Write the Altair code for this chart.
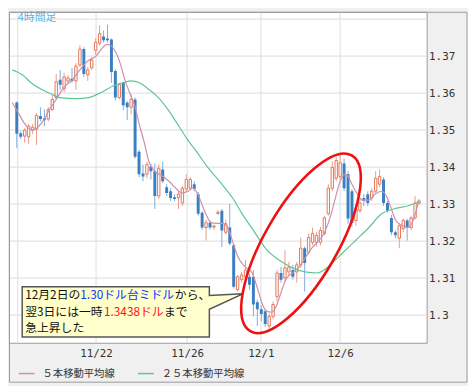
import altair as alt
import pandas as pd

# ---------------- data ----------------
opens = [1.3575, 1.3492, 1.3484, 1.3482, 1.3500, 1.3503, 1.3538, 1.3532, 1.3530, 1.3556,
         1.3588, 1.3636, 1.3612, 1.3633, 1.3639, 1.3633, 1.3676, 1.3719, 1.3649, 1.3668,
         1.3716, 1.3735, 1.3753, 1.3748, 1.3745, 1.3660, 1.3588, 1.3628, 1.3575, 1.3562,
         1.3583, 1.3442, 1.3383, 1.3381, 1.3402, 1.3389, 1.3322, 1.3394, 1.3346, 1.3335,
         1.3319, 1.3317, 1.3303, 1.3341, 1.3343, 1.3354, 1.3327, 1.3277, 1.3237, 1.3250,
         1.3238, 1.3275, 1.3282, 1.3224, 1.3237, 1.3189, 1.3069, 1.3096, 1.3104, 1.3104,
         1.3104, 1.3035, 1.3016, 1.3011, 1.2971, 1.2997, 1.3050, 1.3114, 1.3101, 1.3117,
         1.3122, 1.3117, 1.3136, 1.3181, 1.3170, 1.3197, 1.3197, 1.3197, 1.3221, 1.3274,
         1.3343, 1.3370, 1.3375, 1.3410, 1.3381, 1.3335, 1.3256, 1.3282, 1.3317, 1.3327,
         1.3317, 1.3335, 1.3354, 1.3367, 1.3303, 1.3263, 1.3224, 1.3208, 1.3234, 1.3256,
         1.3237, 1.3263, 1.3303]
highs = [1.3578, 1.3498, 1.3506, 1.3516, 1.3516, 1.3546, 1.3562, 1.3556, 1.3562, 1.3594,
         1.3652, 1.3663, 1.3655, 1.3649, 1.3668, 1.3681, 1.3729, 1.3724, 1.3671, 1.3697,
         1.3748, 1.3783, 1.3769, 1.3785, 1.3748, 1.3665, 1.3628, 1.3631, 1.3578, 1.3596,
         1.3588, 1.3447, 1.3407, 1.3415, 1.3410, 1.3410, 1.3407, 1.3415, 1.3354, 1.3343,
         1.3327, 1.3335, 1.3349, 1.3381, 1.3373, 1.3362, 1.3333, 1.3282, 1.3258, 1.3256,
         1.3245, 1.3284, 1.3287, 1.3258, 1.3301, 1.3194, 1.3109, 1.3117, 1.3149, 1.3112,
         1.3122, 1.3042, 1.3027, 1.3016, 1.3005, 1.3037, 1.3122, 1.3130, 1.3176, 1.3144,
         1.3136, 1.3144, 1.3210, 1.3186, 1.3221, 1.3237, 1.3224, 1.3239, 1.3269, 1.3354,
         1.3415, 1.3428, 1.3436, 1.3423, 1.3389, 1.3341, 1.3295, 1.3314, 1.3327, 1.3335,
         1.3343, 1.3389, 1.3394, 1.3373, 1.3309, 1.3271, 1.3229, 1.3250, 1.3261, 1.3261,
         1.3269, 1.3322, 1.3314]
lows = [1.3452, 1.3476, 1.3466, 1.3463, 1.3490, 1.3460, 1.3524, 1.3511, 1.3524, 1.3551,
        1.3583, 1.3609, 1.3602, 1.3625, 1.3628, 1.3609, 1.3671, 1.3644, 1.3633, 1.3663,
        1.3703, 1.3729, 1.3737, 1.3737, 1.3628, 1.3580, 1.3583, 1.3554, 1.3527, 1.3543,
        1.3423, 1.3373, 1.3362, 1.3370, 1.3367, 1.3287, 1.3314, 1.3357, 1.3322, 1.3309,
        1.3309, 1.3287, 1.3295, 1.3335, 1.3338, 1.3335, 1.3269, 1.3231, 1.3202, 1.3231,
        1.3231, 1.3271, 1.3184, 1.3218, 1.3189, 1.3072, 1.3064, 1.3088, 1.3098, 1.3069,
        1.2997, 1.2971, 1.2984, 1.2968, 1.2960, 1.2989, 1.3037, 1.3088, 1.3090, 1.3106,
        1.3096, 1.3088, 1.3128, 1.3064, 1.3165, 1.3189, 1.3186, 1.3189, 1.3216, 1.3269,
        1.3335, 1.3362, 1.3367, 1.3335, 1.3247, 1.3239, 1.3242, 1.3277, 1.3295, 1.3295,
        1.3309, 1.3330, 1.3346, 1.3295, 1.3277, 1.3216, 1.3208, 1.3181, 1.3224, 1.3202,
        1.3229, 1.3258, 1.3298]
closes = [1.3490, 1.3482, 1.3500, 1.3511, 1.3508, 1.3540, 1.3530, 1.3527, 1.3556, 1.3583,
          1.3631, 1.3623, 1.3644, 1.3641, 1.3633, 1.3673, 1.3719, 1.3652, 1.3663, 1.3689,
          1.3737, 1.3761, 1.3743, 1.3743, 1.3657, 1.3588, 1.3623, 1.3567, 1.3562, 1.3583,
          1.3428, 1.3381, 1.3375, 1.3407, 1.3389, 1.3322, 1.3397, 1.3362, 1.3330, 1.3317,
          1.3314, 1.3327, 1.3343, 1.3367, 1.3367, 1.3341, 1.3274, 1.3237, 1.3250, 1.3237,
          1.3241, 1.3278, 1.3229, 1.3247, 1.3194, 1.3077, 1.3104, 1.3109, 1.3122, 1.3082,
          1.3029, 1.3016, 1.3003, 1.2976, 1.2997, 1.3029, 1.3114, 1.3096, 1.3128, 1.3130,
          1.3104, 1.3136, 1.3181, 1.3141, 1.3210, 1.3221, 1.3216, 1.3229, 1.3263, 1.3343,
          1.3399, 1.3418, 1.3412, 1.3343, 1.3261, 1.3250, 1.3287, 1.3303, 1.3309, 1.3303,
          1.3335, 1.3370, 1.3375, 1.3303, 1.3282, 1.3224, 1.3216, 1.3242, 1.3256, 1.3237,
          1.3263, 1.3303, 1.3309]
bar_index = list(range(len(opens)))

ma5_pos = [-1.2, 0, 2.7, 3.9, 5.1, 6.8, 8.3, 10, 11.9, 14.1, 16, 18, 20.1, 21.6, 22.8, 23.8,
           25, 26.2, 27.4, 28.6, 29.9, 31.1, 32.3, 33.5, 35, 37.1, 38.6, 40.3, 42, 43.4,
           44.7, 45.9, 47.6, 49.3, 50.7, 52.4, 53.6, 54.9, 56.1, 58, 59.7, 60.9, 62.1, 63.3,
           64.6, 65.8, 67, 68.2, 69.9, 71.4, 73.1, 74.8, 76.2, 77.9, 79.6, 80.8, 82, 83.3,
           84, 85.2, 86.4, 87.6, 89.3, 90.8, 92.5, 93.7, 94.9, 96.1, 97.8, 99.3, 100.5, 101.9]
ma5_val = [1.3575, 1.3554, 1.3508, 1.3500, 1.3506, 1.3527, 1.3556, 1.3583, 1.3615, 1.3636,
           1.3663, 1.3687, 1.3700, 1.3721, 1.3732, 1.3729, 1.3713, 1.3681, 1.3636, 1.3602,
           1.3567, 1.3514, 1.3468, 1.3415, 1.3389, 1.3375, 1.3362, 1.3343, 1.3330, 1.3335,
           1.3343, 1.3327, 1.3282, 1.3250, 1.3248, 1.3248, 1.3234, 1.3194, 1.3157, 1.3130,
           1.3114, 1.3077, 1.3035, 1.3011, 1.3008, 1.3024, 1.3061, 1.3096, 1.3114, 1.3128,
           1.3154, 1.3181, 1.3197, 1.3221, 1.3269, 1.3317, 1.3362, 1.3381, 1.3375, 1.3349,
           1.3327, 1.3311, 1.3311, 1.3327, 1.3335, 1.3322, 1.3290, 1.3256, 1.3242, 1.3237,
           1.3256, 1.3306]
ma25_pos = [-1.2, 0, 1.5, 3.6, 8.5, 10.9, 15, 18.2, 21.4, 24.5, 27, 28.9, 31.1, 33.5, 35.9,
            38.3, 40.8, 43.2, 45.6, 48.1, 51.7, 54.9, 56.8, 60.2, 63.3, 66.5, 69.9, 73.1,
            76.2, 77.9, 80.3, 82.8, 85.9, 89.3, 92.5, 95.6, 99, 101.9]
ma25_val = [1.3663, 1.3658, 1.3649, 1.3628, 1.3599, 1.3588, 1.3585, 1.3588, 1.3602, 1.3620,
            1.3628, 1.3633, 1.3628, 1.3610, 1.3588, 1.3556, 1.3516, 1.3476, 1.3442, 1.3404,
            1.3358, 1.3314, 1.3280, 1.3226, 1.3178, 1.3149, 1.3128, 1.3117, 1.3114, 1.3122,
            1.3144, 1.3170, 1.3202, 1.3237, 1.3274, 1.3287, 1.3295, 1.3306]

series_names = ["５本移動平均線", "２５本移動平均線"]
series_colors = ["#cf8fae", "#5fc794"]

price_ticks = [1.30, 1.31, 1.32, 1.33, 1.34, 1.35, 1.36, 1.37]
y_grid = [1.30, 1.31, 1.32, 1.33, 1.34, 1.35, 1.36, 1.37, 1.38]
x_grid = [0.24, 20.1, 43.2, 61.9, 82.0]
date_pos = [20.1, 43.2, 61.9, 82.0]
date_labels = ["11/22", "11/26", "12/1", "12/6"]

chart_label = ["4時間足"]
callout_lines = [
    [("12月2日の", "#111111"), ("1.30ドル台ミドル", "#0a35ff"), ("から、", "#111111")],
    [("翌3日には一時", "#111111"), ("1.3438ドル", "#ff1010"), ("まで", "#111111")],
    [("急上昇した", "#111111")],
]
callout_anchor = {"bar": [25.1], "price": [1.30093]}
ellipse_center = {"bar": [72.07], "price": [1.31943]}

# ---------------- styles ----------------
W, H = 424, 336
mono = "DejaVu Sans Mono"
jp = "Noto Sans CJK JP"

xs = alt.Scale(domain=[-0.73, 102.68], nice=False, zero=False)
ys = alt.Scale(domain=[1.29255, 1.38198], nice=False, zero=False)
label_expr = " : ".join(f"datum.value == {p} ? '{l}'" for p, l in zip(date_pos, date_labels)) + " : ''"
x_axis = alt.Axis(values=date_pos, labelExpr=label_expr, grid=False, ticks=False, domain=False,
                  labelPadding=5, labelFont=mono, labelFontSize=11, labelColor="#333333",
                  labelFlush=False, labelOverlap=False, title=None)
y_axis = alt.Axis(orient="right", values=price_ticks, format=".2~f", grid=False, ticks=False,
                  domain=False, labelPadding=2, labelFont=mono, labelFontSize=11,
                  labelColor="#333333", labelFlush=False, title=None)


def X(f):
    return alt.X(f, type="quantitative", scale=xs, axis=x_axis)


def Y(f):
    return alt.Y(f, type="quantitative", scale=ys, axis=y_axis)


cdf = pd.DataFrame({"bar": bar_index, "open": opens, "high": highs, "low": lows, "close": closes})
ma_df = pd.concat([
    pd.DataFrame({"pos": ma5_pos, "val": ma5_val, "series": series_names[0]}),
    pd.DataFrame({"pos": ma25_pos, "val": ma25_val, "series": series_names[1]}),
])

xgrid = alt.Chart(pd.DataFrame({"g": x_grid})).mark_rule(color="#e3e3e3", strokeWidth=1.2).encode(x=X("g"))
ygrid = alt.Chart(pd.DataFrame({"g": y_grid})).mark_rule(color="#e3e3e3", strokeWidth=1.2).encode(y=Y("g"))

base = alt.Chart(cdf)
up = base.transform_filter("datum.close >= datum.open")
down = base.transform_filter("datum.close < datum.open")

wick_up = up.mark_rule(color="#ec9a86", strokeWidth=1, clip=True).encode(
    x=X("bar"), y=Y("low"), y2=alt.Y2("high"))
wick_dn = down.mark_rule(color="#7aaede", strokeWidth=1, clip=True).encode(
    x=X("bar"), y=Y("low"), y2=alt.Y2("high"))
body_up = up.mark_bar(size=2.4, fill="#ffffff", stroke="#e2775b", strokeWidth=1, clip=True).encode(
    x=X("bar"), y=Y("open"), y2=alt.Y2("close"))
body_dn = down.mark_bar(size=3, color="#3c7fc1", clip=True).encode(
    x=X("bar"), y=Y("open"), y2=alt.Y2("close"))

legend = alt.Legend(orient="none", legendX=9, legendY=358, direction="horizontal",
                    symbolType="stroke", symbolSize=256, symbolStrokeWidth=1.5,
                    labelFont=jp, labelFontSize=10.5, labelColor="#333333",
                    columnPadding=20, labelOffset=7, title=None, padding=0)
ma_lines = alt.Chart(ma_df).mark_line(strokeWidth=1.2, clip=True, interpolate="monotone").encode(
    x=X("pos"), y=Y("val"),
    color=alt.Color("series:N", scale=alt.Scale(domain=series_names, range=series_colors),
                    legend=legend))

k = 0.5523
r = 0.359
ellipse_path = (f"M -1 0 C -1 {-k*r:.4f} {-k} {-r} 0 {-r} C {k} {-r} 1 {-k*r:.4f} 1 0 "
                f"C 1 {k*r:.4f} {k} {r} 0 {r} C {-k} {r} -1 {k*r:.4f} -1 0 Z")
ellipse = alt.Chart(pd.DataFrame(ellipse_center)).mark_point(
    shape=ellipse_path, filled=False, color="#ee1111", strokeWidth=2.6,
    size=206 * 206, angle=300, opacity=1).encode(x=X("bar"), y=Y("price"))

callout_path = ("M -0.7308 -0.1962 L 0.7308 -0.1962 L 0.7308 -0.1269 L 0.9923 -0.14 "
                "L 0.7308 -0.0192 L 0.7308 0.1962 L -0.7308 0.1962 Z")
callout = alt.Chart(pd.DataFrame(callout_anchor)).mark_point(
    shape=callout_path, filled=True, fill="#ffffcc", stroke="#555555", strokeWidth=1.5,
    size=260 * 260, opacity=1).encode(x=X("bar"), y=Y("price"))

seg_dx = [[-92, -36, 60], [-92, -12, 49], [-92]]
line_dy = [-16.5, 0, 16.5]
text_layers = []
for li, segs in enumerate(callout_lines):
    for si, (txt, col) in enumerate(segs):
        text_layers.append(
            alt.Chart(pd.DataFrame({"bar": callout_anchor["bar"], "price": callout_anchor["price"], "t": [txt]}))
            .mark_text(align="left", baseline="middle", font=jp, fontSize=12, color=col,
                       dx=seg_dx[li][si], dy=line_dy[li])
            .encode(x=X("bar"), y=Y("price"), text="t:N"))

title_txt = alt.Chart(pd.DataFrame({"t": chart_label})).mark_text(
    align="left", baseline="middle", font=jp, fontSize=11, color="#4fb3e8").encode(
    x=alt.value(9), y=alt.value(6), text="t:N")

frame = alt.Chart(pd.DataFrame({"a": [0]})).mark_rect(
    fillOpacity=0, stroke="#9a9a9a", strokeWidth=1).encode(
    x=alt.value(0.5), x2=alt.value(465), y=alt.value(0.5), y2=alt.value(376))

chart = alt.layer(
    xgrid, ygrid, wick_up, wick_dn, body_up, body_dn, ma_lines,
    callout, *text_layers, ellipse, title_txt, frame
).properties(width=W, height=H, padding=0, background="#f0f0f0").configure_view(
    fill="#ffffff", stroke="#9a9a9a", strokeWidth=1)

chart.save("out.html", embed_options={"renderer": "svg", "actions": False})
